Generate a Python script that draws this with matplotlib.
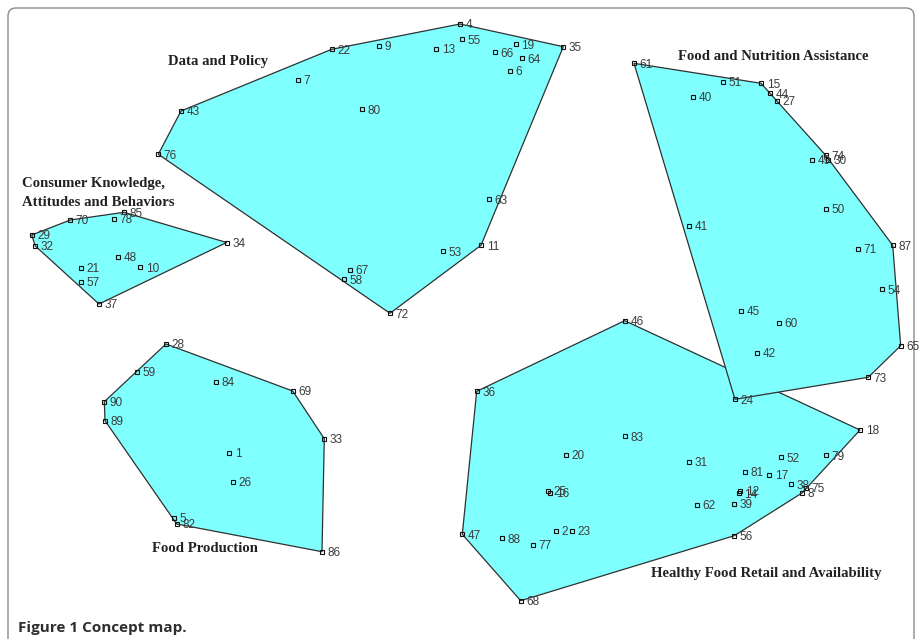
import matplotlib.pyplot as plt
from matplotlib.patches import Polygon, FancyBboxPatch

OUTPUT_IMAGE = "out.png"

# cluster names, label positions (map units, y down)
cluster_names = ["Data and Policy", "Consumer Knowledge,\nAttitudes and Behaviors",
                 "Food and Nutrition Assistance", "Food Production",
                 "Healthy Food Retail and Availability"]
cluster_label_x = [218, 22, 773, 205, 766]
cluster_label_y = [62, 193, 57, 549, 573]
cluster_label_ha = ["center", "left", "center", "center", "center"]

# statement ids and map coordinates per cluster
data_policy_ids = [4, 55, 19, 35, 66, 64, 6, 22, 9, 13, 7, 80, 43, 76, 63, 11, 53, 67, 58, 72]
data_policy_x = [460, 461.7, 515.7, 563.3, 495, 521.7, 510, 331.7, 379.3, 436, 297.7, 361.7,
                 181, 158.3, 489, 481, 443.3, 350, 344.3, 390]
data_policy_y = [24, 39.3, 44.3, 46.7, 52.3, 58.3, 71, 49.3, 46, 48.7, 79.7, 109.3,
                 111, 154.3, 199.3, 245.3, 251.3, 269.7, 279.3, 313.3]

consumer_ids = [85, 78, 70, 29, 32, 34, 48, 10, 21, 57, 37]
consumer_x = [124, 114.3, 70.3, 31.7, 35.3, 226.7, 117.7, 140, 81, 81, 99]
consumer_y = [212.3, 218.7, 220, 235, 246, 242.5, 256.7, 267.3, 267.7, 281.7, 304]

fna_ids = [61, 51, 15, 44, 27, 40, 74, 30, 49, 50, 41, 71, 87, 54, 45, 60, 42, 65, 73, 24]
fna_x = [634, 722.7, 761, 770, 776.7, 692.7, 825.7, 828.3, 812.3, 825.7, 689.3, 858,
         892.7, 882, 741, 779.3, 756.7, 900.7, 868.3, 735]
fna_y = [63.3, 81.7, 83.3, 93.3, 101, 96.7, 155.3, 160, 160, 208.7, 226, 249,
         245.3, 289.3, 311, 322.7, 352.7, 345.7, 377.3, 399.3]

production_ids = [28, 59, 84, 69, 90, 89, 33, 1, 26, 5, 82, 86]
production_x = [166, 137.3, 216, 292.7, 104.3, 105, 324.3, 229.3, 232.7, 174, 176.7, 322]
production_y = [344, 371.7, 382, 391, 401.7, 420.7, 438.7, 452.7, 482, 517.7, 524, 551.7]

retail_ids = [46, 36, 83, 20, 18, 31, 52, 79, 81, 17, 38, 75, 8, 25, 16, 12, 14, 62, 39,
              47, 88, 77, 2, 23, 56, 68]
retail_x = [624.7, 476.7, 624.7, 566, 860, 689.3, 780.7, 826, 745.3, 769.3, 790.7, 806, 802,
            548.3, 550, 740, 738.7, 697.3, 734, 462.3, 501.7, 533, 556, 572, 734.3, 520.7]
retail_y = [320.7, 391.3, 436.3, 455, 430, 461.7, 457.3, 455.3, 471.7, 475, 484.3, 487.7, 493,
            490.7, 492.7, 490.7, 493.3, 504.7, 504, 534.3, 538.3, 545, 531, 531, 535.7, 600.7]

# drawn in this order: retail first so that the assistance cluster lies on top of it
clusters = [
    (data_policy_ids, data_policy_x, data_policy_y),
    (consumer_ids, consumer_x, consumer_y),
    (production_ids, production_x, production_y),
    (retail_ids, retail_x, retail_y),
    (fna_ids, fna_x, fna_y),
]


def convex_hull(pts):
    pts = sorted(set(pts))
    if len(pts) < 3:
        return pts

    def cross(o, a, b):
        return (a[0] - o[0]) * (b[1] - o[1]) - (a[1] - o[1]) * (b[0] - o[0])

    lower, upper = [], []
    for p in pts:
        while len(lower) >= 2 and cross(lower[-2], lower[-1], p) <= 0:
            lower.pop()
        lower.append(p)
    for p in reversed(pts):
        while len(upper) >= 2 and cross(upper[-2], upper[-1], p) <= 0:
            upper.pop()
        upper.append(p)
    return lower[:-1] + upper[:-1]


def main():
    fig = plt.figure(figsize=(9.22, 6.39), dpi=100, facecolor="white")
    ax = fig.add_axes([0, 0, 1, 1])
    ax.set_xlim(0, 922)
    ax.set_ylim(639, 0)
    ax.set_axis_off()

    # rounded frame around the figure
    frame = FancyBboxPatch((8, 8), 906, 640, boxstyle="round,pad=0,rounding_size=8",
                           facecolor="none", edgecolor="#8a8a8a", linewidth=1.0)
    ax.add_patch(frame)

    for z, (ids, xs, ys) in enumerate(clusters):
        hull = convex_hull(list(zip(xs, ys)))
        ax.add_patch(Polygon(hull, closed=True, facecolor="#80ffff",
                             edgecolor="#303030", linewidth=0.9, zorder=1 + z * 0.01))

    for ids, xs, ys in clusters:
        ax.plot(xs, ys, linestyle="none", marker="s", markersize=3.4,
                markerfacecolor="none", markeredgecolor="#111111",
                markeredgewidth=0.8, zorder=3)
        for i, x, y in zip(ids, xs, ys):
            ax.annotate(str(i), (x, y), xytext=(4.0, -1.0), textcoords="offset points",
                        ha="left", va="center", fontsize=8.5, color="#3b3b3b",
                        family="Liberation Sans", zorder=4)

    for name, lx, ly, ha in zip(cluster_names, cluster_label_x, cluster_label_y, cluster_label_ha):
        ax.text(lx, ly, name, ha=ha, va="center", fontsize=10.6, fontweight="bold",
                family="Liberation Serif", color="#222222", linespacing=1.7, zorder=5)

    ax.text(18, 628, "Figure 1 Concept map.", ha="left", va="center", fontsize=11,
            fontweight="bold", family="Open Sans", color="#2e2e2e")

    fig.savefig(OUTPUT_IMAGE, dpi=100, facecolor="white")


if __name__ == "__main__":
    main()
